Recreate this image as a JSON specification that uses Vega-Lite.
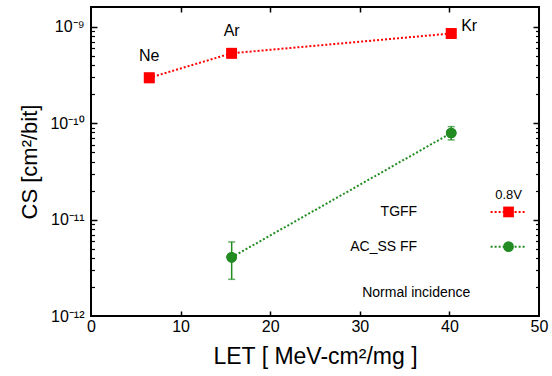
{
  "$schema": "https://vega.github.io/schema/vega-lite/v6.json",
  "width": 448,
  "height": 309,
  "autosize": "none",
  "padding": {"left": 91, "top": 7, "right": 13, "bottom": 60},
  "background": "white",
  "config": {
    "view": {"stroke": "black", "strokeWidth": 2},
    "font": "Liberation Sans",
    "axis": {"domain": false, "grid": false, "labelColor": "black", "titleColor": "black", "labelFont": "Liberation Sans", "titleFont": "Liberation Sans", "titleFontWeight": "normal"}
  },
  "data": {
    "values": [
      {"series": "TGFF", "ion": "Ne", "LET": 6.5, "CS": 2.95e-10},
      {"series": "TGFF", "ion": "Ar", "LET": 15.7, "CS": 5.3e-10},
      {"series": "TGFF", "ion": "Kr", "LET": 40.2, "CS": 8.5e-10},
      {"series": "AC_SS FF", "ion": "Ar", "LET": 15.7, "CS": 4.06e-12, "lo": 2.4e-12, "hi": 5.86e-12},
      {"series": "AC_SS FF", "ion": "Kr", "LET": 40.2, "CS": 7.9e-11, "lo": 6.7e-11, "hi": 9.2e-11}
    ]
  },
  "resolve": {"axis": {"x": "independent", "y": "independent"}},
  "layer": [
    {
      "mark": {"type": "line", "strokeDash": [2, 2], "strokeWidth": 2},
      "encoding": {
        "x": {"field": "LET", "type": "quantitative", "scale": {"domain": [0, 50], "nice": false, "zero": false},
          "axis": {"orient": "bottom", "values": [0, 10, 20, 30, 40, 50], "ticks": false, "labelPadding": 2, "labelFontSize": 16, "title": "LET [ MeV-cm²/mg ]", "titleFontSize": 23, "titlePadding": 11, "labelFlush": false}},
        "y": {"field": "CS", "type": "quantitative", "scale": {"type": "log", "domain": [1e-12, 1.6e-9], "nice": false},
          "axis": {"orient": "left", "values": [1e-12, 1e-11, 1e-10, 1e-9], "ticks": false, "labelPadding": 7, "labelFontSize": 16, "labelExpr": "datum.value > 5e-10 ? '10⁻⁹' : datum.value > 5e-11 ? '10⁻¹⁰' : datum.value > 5e-12 ? '10⁻¹¹' : '10⁻¹²'", "title": "CS [cm²/bit]", "titleFontSize": 22, "titlePadding": 8, "labelFlush": false}},
        "color": {"field": "series", "type": "nominal", "scale": {"domain": ["TGFF", "AC_SS FF"], "range": ["#ff0000", "#228b22"]}, "legend": null}
      }
    },
    {
      "mark": {"type": "point", "filled": true, "size": 115, "opacity": 1},
      "encoding": {
        "x": {"field": "LET", "type": "quantitative", "axis": {"orient": "bottom", "values": [10, 20, 30, 40], "labels": false, "ticks": true, "tickSize": -5, "tickColor": "black", "tickWidth": 1.5, "title": null}},
        "y": {"field": "CS", "type": "quantitative", "axis": {"orient": "left", "values": [1e-11, 1e-10, 1e-9], "labels": false, "ticks": true, "tickSize": -6, "tickColor": "black", "tickWidth": 1.5, "title": null}},
        "color": {"field": "series", "type": "nominal", "legend": null},
        "shape": {"field": "series", "type": "nominal", "scale": {"domain": ["TGFF", "AC_SS FF"], "range": ["square", "circle"]}, "legend": null}
      }
    },
    {
      "transform": [{"filter": "isValid(datum.lo)"}],
      "mark": {"type": "rule", "strokeWidth": 1.5, "color": "#228b22"},
      "encoding": {
        "x": {"field": "LET", "type": "quantitative", "axis": {"orient": "top", "values": [10, 20, 30, 40], "labels": false, "ticks": true, "tickSize": -5, "tickColor": "black", "tickWidth": 1.5, "title": null}},
        "y": {"field": "lo", "type": "quantitative", "axis": {"orient": "left", "values": [2e-12, 3e-12, 4e-12, 5e-12, 6e-12, 7e-12, 8e-12, 9e-12, 2e-11, 3e-11, 4e-11, 5e-11, 6e-11, 7e-11, 8e-11, 9e-11, 2e-10, 3e-10, 4e-10, 5e-10, 6e-10, 7e-10, 8e-10, 9e-10], "labels": false, "ticks": true, "tickSize": -3.5, "tickColor": "black", "tickWidth": 1.2, "title": null}},
        "y2": {"field": "hi"}
      }
    },
    {
      "transform": [{"filter": "isValid(datum.lo)"}],
      "mark": {"type": "tick", "orient": "horizontal", "size": 7, "thickness": 1.5, "color": "#228b22"},
      "encoding": {
        "x": {"field": "LET", "type": "quantitative", "axis": null},
        "y": {"field": "lo", "type": "quantitative", "axis": {"orient": "right", "values": [1e-11, 1e-10, 1e-9], "labels": false, "ticks": true, "tickSize": -6, "tickColor": "black", "tickWidth": 1.5, "title": null}}
      }
    },
    {
      "transform": [{"filter": "isValid(datum.hi)"}],
      "mark": {"type": "tick", "orient": "horizontal", "size": 7, "thickness": 1.5, "color": "#228b22"},
      "encoding": {
        "x": {"field": "LET", "type": "quantitative", "axis": null},
        "y": {"field": "hi", "type": "quantitative", "axis": {"orient": "right", "values": [2e-12, 3e-12, 4e-12, 5e-12, 6e-12, 7e-12, 8e-12, 9e-12, 2e-11, 3e-11, 4e-11, 5e-11, 6e-11, 7e-11, 8e-11, 9e-11, 2e-10, 3e-10, 4e-10, 5e-10, 6e-10, 7e-10, 8e-10, 9e-10], "labels": false, "ticks": true, "tickSize": -3.5, "tickColor": "black", "tickWidth": 1.2, "title": null}}
      }
    },
    {
      "mark": {"type": "point", "filled": true, "size": 115, "opacity": 1},
      "encoding": {
        "x": {"field": "LET", "type": "quantitative", "axis": null},
        "y": {"field": "CS", "type": "quantitative", "axis": null},
        "color": {"field": "series", "type": "nominal", "legend": null},
        "shape": {"field": "series", "type": "nominal", "legend": null}
      }
    },
    {
      "transform": [{"filter": "datum.series == 'TGFF' && datum.ion != 'Kr'"}],
      "mark": {"type": "text", "fontSize": 16, "dy": -17, "baseline": "alphabetic", "align": "center", "color": "black"},
      "encoding": {
        "x": {"field": "LET", "type": "quantitative", "axis": null},
        "y": {"field": "CS", "type": "quantitative", "axis": null},
        "text": {"field": "ion"}
      }
    },
    {
      "transform": [{"filter": "datum.series == 'TGFF' && datum.ion == 'Kr'"}],
      "mark": {"type": "text", "fontSize": 16, "dx": 10, "dy": -2, "baseline": "alphabetic", "align": "left", "color": "black"},
      "encoding": {
        "x": {"field": "LET", "type": "quantitative", "axis": null},
        "y": {"field": "CS", "type": "quantitative", "axis": null},
        "text": {"field": "ion"}
      }
    },
    {
      "data": {"values": [{}]},
      "mark": {"type": "text", "text": "0.8V", "fontSize": 13, "align": "center", "baseline": "middle", "color": "black"},
      "encoding": {"x": {"datum": 46.6, "type": "quantitative", "axis": null}, "y": {"datum": 1.8e-11, "type": "quantitative", "axis": null}}
    },
    {
      "data": {"values": [{}]},
      "mark": {"type": "text", "text": "TGFF", "fontSize": 14, "align": "right", "baseline": "middle", "color": "black"},
      "encoding": {"x": {"datum": 36.4, "type": "quantitative", "axis": null}, "y": {"datum": 1.2e-11, "type": "quantitative", "axis": null}}
    },
    {
      "data": {"values": [{}]},
      "mark": {"type": "rule", "strokeDash": [2, 2], "strokeWidth": 2, "color": "#ff0000"},
      "encoding": {"x": {"datum": 44.6, "type": "quantitative", "axis": null}, "x2": {"datum": 48.6}, "y": {"datum": 1.2e-11, "type": "quantitative", "axis": null}}
    },
    {
      "data": {"values": [{}]},
      "mark": {"type": "point", "shape": "square", "filled": true, "size": 115, "opacity": 1, "color": "#ff0000"},
      "encoding": {"x": {"datum": 46.6, "type": "quantitative", "axis": null}, "y": {"datum": 1.2e-11, "type": "quantitative", "axis": null}}
    },
    {
      "data": {"values": [{}]},
      "mark": {"type": "text", "text": "AC_SS FF", "fontSize": 14, "align": "right", "baseline": "middle", "color": "black"},
      "encoding": {"x": {"datum": 36.4, "type": "quantitative", "axis": null}, "y": {"datum": 5.24e-12, "type": "quantitative", "axis": null}}
    },
    {
      "data": {"values": [{}]},
      "mark": {"type": "rule", "strokeDash": [2, 2], "strokeWidth": 2, "color": "#228b22"},
      "encoding": {"x": {"datum": 44.6, "type": "quantitative", "axis": null}, "x2": {"datum": 48.6}, "y": {"datum": 5.24e-12, "type": "quantitative", "axis": null}}
    },
    {
      "data": {"values": [{}]},
      "mark": {"type": "point", "shape": "circle", "filled": true, "size": 115, "opacity": 1, "color": "#228b22"},
      "encoding": {"x": {"datum": 46.6, "type": "quantitative", "axis": null}, "y": {"datum": 5.24e-12, "type": "quantitative", "axis": null}}
    },
    {
      "data": {"values": [{}]},
      "mark": {"type": "text", "text": "Normal incidence", "fontSize": 14, "align": "center", "baseline": "middle", "color": "black"},
      "encoding": {"x": {"datum": 36.3, "type": "quantitative", "axis": null}, "y": {"datum": 1.73e-12, "type": "quantitative", "axis": null}}
    }
  ]
}
